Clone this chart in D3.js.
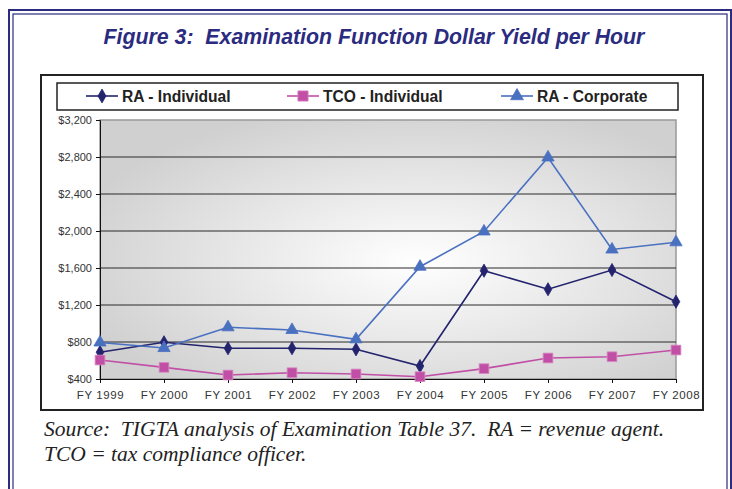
<!DOCTYPE html>
<html lang="en">
<head>
<meta charset="utf-8">
<script src="https://d3js.org/d3.v7.min.js"></script>
<style>
  body { margin: 0; background: #fff; }
  svg { display: block; }
  text { white-space: pre; }
</style>
</head>
<body>
<script type="text/javascript">

// chart values
var years = ["FY 1999", "FY 2000", "FY 2001", "FY 2002", "FY 2003", "FY 2004", "FY 2005", "FY 2006", "FY 2007", "FY 2008"];
var raIndividual = [690, 797, 732, 733, 721, 540, 1571, 1370, 1578, 1236];
var tcoIndividual = [605, 526, 443, 468, 454, 425, 512, 627, 641, 713];
var raCorporate = [795, 735, 959, 930, 829, 1614, 1995, 2795, 1800, 1878];
var yTicks = [400, 800, 1200, 1600, 2000, 2400, 2800, 3200];
var seriesNames = ["RA - Individual", "TCO - Individual", "RA - Corporate"];

var width = 732, height = 489;
var navy = "#2b2b80";

var svg = d3.select("body").append("svg")
  .attr("width", width)
  .attr("height", height);

// double frame round the whole figure
svg.append("rect").attr("x", 9).attr("y", 10).attr("width", 722).attr("height", 500)
  .attr("fill", "none").attr("stroke", navy).attr("stroke-width", 2);
svg.append("rect").attr("x", 13).attr("y", 14).attr("width", 714).attr("height", 500)
  .attr("fill", "none").attr("stroke", navy).attr("stroke-width", 1.2);

// title
svg.append("text")
  .attr("x", 374).attr("y", 44)
  .attr("text-anchor", "middle")
  .style("font-family", "'Liberation Sans', Arial, sans-serif")
  .style("font-weight", "bold").style("font-style", "italic")
  .style("font-size", "21.3px")
  .attr("fill", navy)
  .text("Figure 3:  Examination Function Dollar Yield per Hour");

// chart box
svg.append("rect").attr("x", 41).attr("y", 75).attr("width", 662).attr("height", 335)
  .attr("fill", "#fff").attr("stroke", "#222").attr("stroke-width", 2);

// plot area
var plotLeft = 100, plotRight = 676, plotTop = 120, plotBottom = 379;

var x = d3.scalePoint().domain(years).range([plotLeft, plotRight]);
var y = d3.scaleLinear().domain([400, 3200]).range([plotBottom, plotTop]);

var defs = svg.append("defs");
var grad = defs.append("radialGradient").attr("id", "bg")
  .attr("cx", "55%").attr("cy", "55%").attr("r", "62%");
grad.append("stop").attr("offset", "0%").attr("stop-color", "#ffffff");
grad.append("stop").attr("offset", "100%").attr("stop-color", "#d0d0d0");

svg.append("rect").attr("x", plotLeft).attr("y", plotTop)
  .attr("width", plotRight - plotLeft).attr("height", plotBottom - plotTop)
  .attr("fill", "url(#bg)").attr("stroke", "#999").attr("stroke-width", 1.5);

// gridlines
svg.append("g").selectAll("line")
  .data(yTicks.slice(1, -1))
  .enter().append("line")
  .attr("x1", plotLeft).attr("x2", plotRight)
  .attr("y1", function(d) { return y(d); })
  .attr("y2", function(d) { return y(d); })
  .attr("stroke", "#2a2a2a").attr("stroke-width", 1);

var tickFont = "'Liberation Sans', Arial, sans-serif";

var yAxis = svg.append("g")
  .attr("transform", "translate(" + plotLeft + ",0)")
  .call(d3.axisLeft(y).tickValues(yTicks).tickSize(4).tickPadding(4)
    .tickFormat(function(d) { return "$" + d3.format(",")(d); }));
yAxis.select(".domain").attr("stroke", "#111");
yAxis.selectAll(".tick line").attr("stroke", "#111");
yAxis.selectAll("text").style("font-family", tickFont).style("font-size", "11px").attr("fill", "#333");

var xAxis = svg.append("g")
  .attr("transform", "translate(0," + plotBottom + ")")
  .call(d3.axisBottom(x).tickSize(4).tickPadding(8).tickSizeOuter(0));
xAxis.select(".domain").attr("stroke", "#111");
xAxis.selectAll(".tick line").attr("stroke", "#111");
xAxis.selectAll("text").style("font-family", tickFont).style("font-size", "11.5px")
  .style("letter-spacing", "0.6px").attr("fill", "#333");

var colors = ["#23236e", "#c24fa6", "#4a70c0"];
var symbols = [d3.symbolDiamond, d3.symbolSquare, d3.symbolTriangle];
var sizes = [50, 95, 65];
var allSeries = [raIndividual, tcoIndividual, raCorporate];

var line = d3.line()
  .x(function(d, i) { return x(years[i]); })
  .y(function(d) { return y(d); });

allSeries.forEach(function(vals, s) {
  svg.append("path")
    .datum(vals)
    .attr("d", line)
    .attr("fill", "none")
    .attr("stroke", colors[s])
    .attr("stroke-width", 1.6);
});

allSeries.forEach(function(vals, s) {
  svg.append("g").selectAll("path")
    .data(vals)
    .enter().append("path")
    .attr("transform", function(d, i) { return "translate(" + x(years[i]) + "," + y(d) + ")"; })
    .attr("d", d3.symbol().type(symbols[s]).size(sizes[s]))
    .attr("fill", colors[s])
    .attr("stroke", s == 1 ? "#d88ac4" : colors[s])
    .attr("stroke-width", 0.8);
});

// legend
svg.append("rect").attr("x", 57).attr("y", 83).attr("width", 621).attr("height", 27)
  .attr("fill", "#fff").attr("stroke", "#222").attr("stroke-width", 1.5);

var legendX = [86, 287, 501];
seriesNames.forEach(function(name, s) {
  var g = svg.append("g").attr("transform", "translate(" + legendX[s] + ",96)");
  g.append("line").attr("x1", 0).attr("x2", 32).attr("y1", 0).attr("y2", 0)
    .attr("stroke", colors[s]).attr("stroke-width", 1.6);
  g.append("path").attr("transform", "translate(16,0)")
    .attr("d", d3.symbol().type(symbols[s]).size(sizes[s] * 1.1))
    .attr("fill", colors[s]).attr("stroke", s == 1 ? "#d88ac4" : colors[s]).attr("stroke-width", 0.8);
  g.append("text").attr("x", 36).attr("y", 5.5)
    .style("font-family", tickFont).style("font-weight", "bold").style("font-size", "15.6px")
    .attr("fill", "#222")
    .text(name);
});

// source note
var note = svg.append("text")
  .style("font-family", "'Liberation Serif', 'Times New Roman', serif")
  .style("font-style", "italic").style("font-size", "21.5px")
  .attr("fill", "#222");
note.append("tspan").attr("x", 44).attr("y", 436)
  .text("Source:  TIGTA analysis of Examination Table 37.  RA = revenue agent.");
note.append("tspan").attr("x", 44).attr("y", 461)
  .text("TCO = tax compliance officer.");

</script>
</body>
</html>
